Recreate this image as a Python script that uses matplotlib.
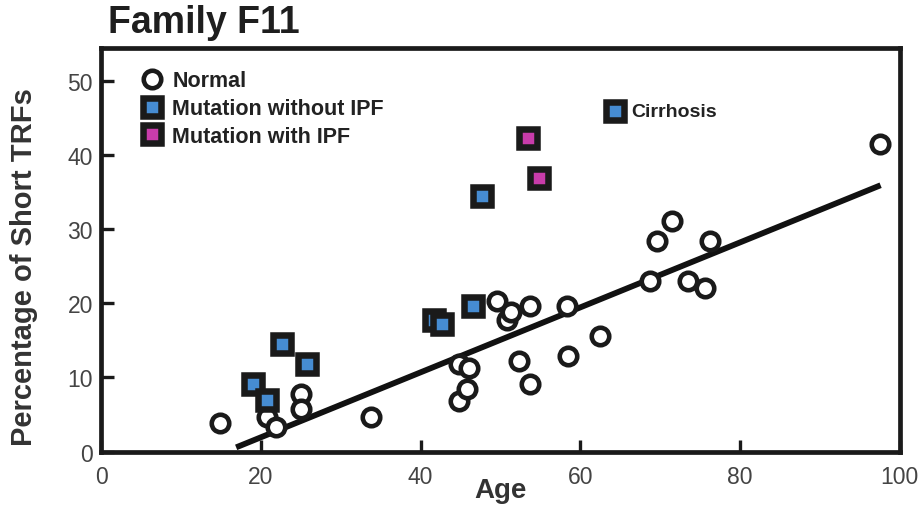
import matplotlib
matplotlib.use('Agg')
import matplotlib.pyplot as plt
from matplotlib.lines import Line2D
import numpy as np

plt.rcParams['font.family'] = ['Liberation Sans', 'DejaVu Sans']

# Normal family members (age, % short TRFs)
normal_age = [14.9, 20.8, 21.9, 25.0, 25.0, 33.75, 44.8, 45.8, 44.8, 46.0,
              49.6, 50.8, 51.3, 53.75, 52.3, 53.75, 58.3, 58.5, 62.5,
              68.75, 69.6, 71.45, 76.25, 73.5, 75.6, 97.5]
normal_pct = [3.8, 4.6, 3.3, 7.7, 5.75, 4.6, 6.8, 8.4, 11.8, 11.3,
              20.3, 17.7, 18.8, 19.6, 12.2, 9.1, 19.6, 12.9, 15.6,
              23.0, 28.4, 31.1, 28.4, 23.0, 22.1, 41.5]

# Mutation carriers without IPF
mut_age = [22.7, 25.8, 19.0, 20.8, 41.7, 42.7, 46.5, 47.7]
mut_pct = [14.5, 11.8, 9.1, 6.9, 17.7, 17.2, 19.6, 34.5]

# Mutation carrier with cirrhosis
cirr_age = [64.4]
cirr_pct = [45.9]

# Mutation carriers with IPF
ipf_age = [53.5, 54.8]
ipf_pct = [42.3, 36.9]

# regression line end points
fit_age = [16.9, 97.6]
fit_pct = [0.56, 35.9]

blue = '#468cd2'
pink = '#c83caa'
edge = '#1a1a1a'

fig = plt.figure(figsize=(9.2, 5.06), dpi=100)
ax = fig.add_axes([0.110, 0.1057, 0.868, 0.7974])

ax.plot(fit_age, fit_pct, color='#111111', lw=4.2, solid_capstyle='butt', zorder=2)

circ_kw = dict(marker='o', ls='none', ms=12.6, mew=3.3, mfc='white', mec=edge)
sq_kw = dict(marker='s', ls='none', ms=13.3, mew=4.7, mec=edge)

ax.plot(normal_age, normal_pct, zorder=3, **circ_kw)
ax.plot(mut_age, mut_pct, mfc=blue, zorder=4, **sq_kw)
ax.plot(cirr_age, cirr_pct, mfc=blue, zorder=4, **sq_kw)
ax.plot(ipf_age, ipf_pct, mfc=pink, zorder=4, **sq_kw)

ax.annotate('Cirrhosis', (cirr_age[0], cirr_pct[0]), xytext=(11, 0),
            textcoords='offset points', va='center', ha='left',
            fontsize=14, fontweight='bold', color='#222222')

handles = [Line2D([], [], **circ_kw),
           Line2D([], [], mfc=blue, **sq_kw),
           Line2D([], [], mfc=pink, **sq_kw)]
labels = ['Normal', 'Mutation without IPF', 'Mutation with IPF']
leg = ax.legend(handles, labels, loc='upper left', bbox_to_anchor=(0.050, 0.945),
                frameon=False, borderaxespad=0, borderpad=0, handlelength=1.0,
                handletextpad=0.45, labelspacing=0.32,
                prop={'size': 15.5, 'weight': 'bold'})
for t in leg.get_texts():
    t.set_color('#222222')

ax.set_xlim(0, 100)
ax.set_ylim(0, 54.4)
ax.set_xticks([0, 20, 40, 60, 80, 100])
ax.set_yticks([0, 10, 20, 30, 40, 50])
ax.tick_params(direction='in', length=9, width=2.4, labelsize=16.5,
               labelcolor='#444444', color=edge)
ax.tick_params(axis='x', pad=10)
ax.tick_params(axis='y', pad=6)
for s in ax.spines.values():
    s.set_linewidth(3.4)
    s.set_color(edge)

ax.set_xlabel('Age', fontsize=20, fontweight='bold', color='#333333')
ax.xaxis.set_label_coords(0.5, -0.062)
ax.set_ylabel('Percentage of Short TRFs', fontsize=21, fontweight='bold', color='#333333')
ax.yaxis.set_label_coords(-0.079, 0.46)

fig.text(0.117, 0.955, 'Family F11', fontsize=27, fontweight='bold',
         color='#1e1e1e', ha='left', va='center')

fig.savefig('out.png', dpi=100)
